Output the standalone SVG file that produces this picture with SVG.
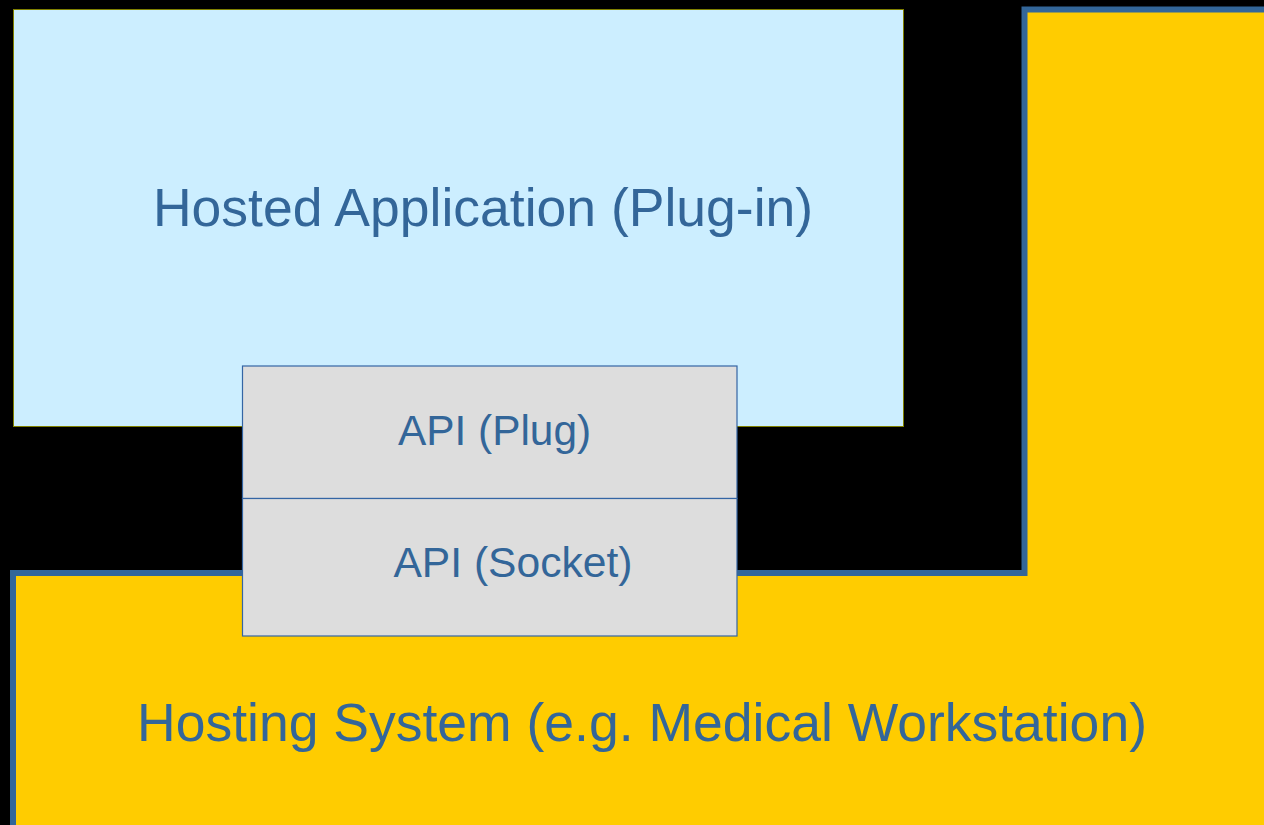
<svg xmlns="http://www.w3.org/2000/svg" width="1264" height="825" viewBox="0 0 1264 825">
<style>
.t{font-family:"Liberation Sans",Arial,sans-serif;fill:#336699;text-anchor:middle}
.api{fill:#dddddd;stroke:#3465a4;stroke-width:1.2}
</style>
<rect x="0" y="0" width="1264" height="825" fill="#000000"/>
<g id="hosting">
<path d="M13,573 L1024.5,573 L1024.5,9.5 L1270,9.5 L1270,830 L13,830 Z" fill="#ffcc00" stroke="#336699" stroke-width="6"/>
<text class="t" x="642" y="741" font-size="53.5">Hosting System (e.g. Medical Workstation)</text>
</g>
<g id="hosted">
<rect x="13.5" y="9.5" width="890" height="417" fill="#cceeff" stroke="#808000" stroke-width="1"/>
<text class="t" x="483" y="226" font-size="53.5">Hosted Application (Plug-in)</text>
</g>
<g id="plug">
<rect class="api" x="242.5" y="366" width="494.5" height="132.5"/>
<text class="t" x="494.5" y="445" font-size="42.4">API (Plug)</text>
</g>
<g id="socket">
<rect class="api" x="242.5" y="498.5" width="494.5" height="137.5"/>
<text class="t" x="513" y="577" font-size="42.6">API (Socket)</text>
</g>
<g id="connectors"></g>
</svg>
